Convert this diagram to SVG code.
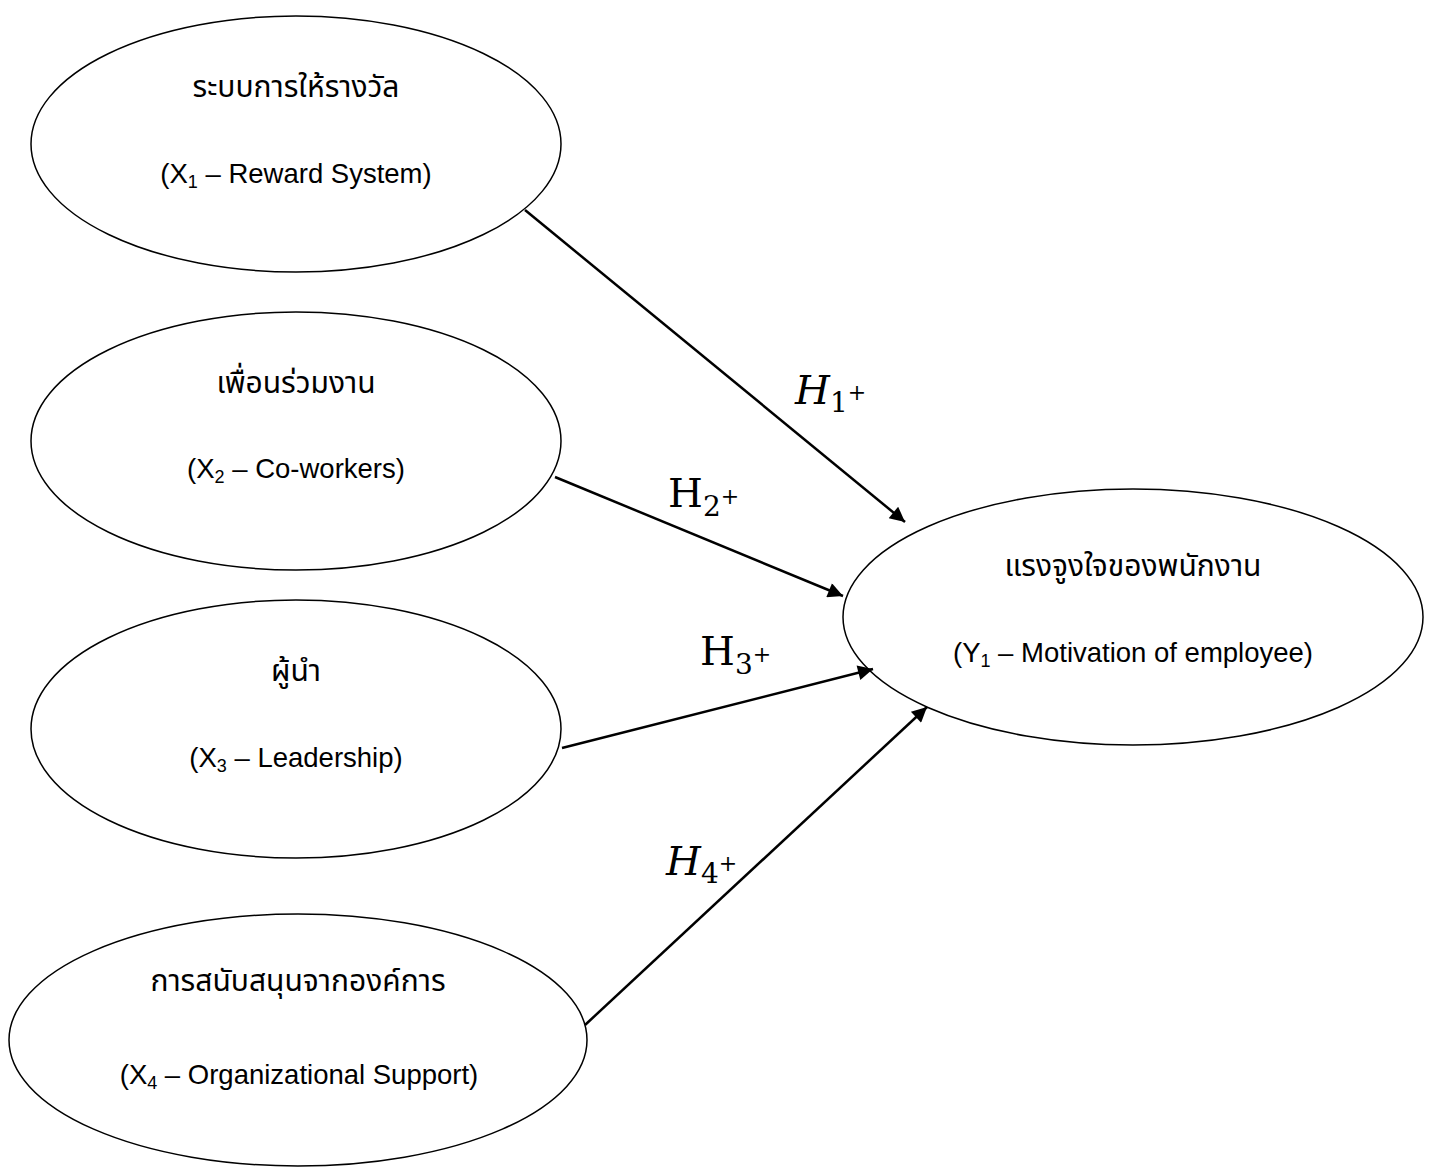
<svg xmlns="http://www.w3.org/2000/svg" width="1434" height="1167" viewBox="0 0 1434 1167">
<defs>
<marker id="ah" viewBox="0 0 10 10" refX="10" refY="5" markerWidth="8" markerHeight="6" markerUnits="strokeWidth" orient="auto">
<path d="M0,0 L10,5 L0,10 z" fill="#000"/>
</marker>
<style>
.node ellipse{fill:#fff;stroke:#000;stroke-width:1.5}
.th{font-family:"Noto Sans Thai","Noto Sans","DejaVu Sans",sans-serif;font-size:30px;fill:#000;text-anchor:middle}
.en{font-family:"Liberation Sans",Arial,sans-serif;font-size:27.5px;fill:#000;text-anchor:middle}
.sub{font-size:18px}
.conn line{stroke:#000;stroke-width:2.5;marker-end:url(#ah)}
.h{font-family:"DejaVu Serif","Liberation Serif",serif;font-size:40px;fill:#000}
.hi{font-style:italic}
.hs{font-size:28px;font-style:normal}
.hp{font-size:22px;font-style:normal}
</style>
</defs>
<rect width="1434" height="1167" fill="#fff"/>
<g id="x1" class="node">
<ellipse cx="296" cy="144" rx="265" ry="128"/>
<text class="th" x="296" y="97">ระบบการให้รางวัล</text>
<text class="en" x="296" y="183">(X<tspan class="sub" dy="5">1</tspan><tspan dy="-5"> – Reward System)</tspan></text>
</g>
<g id="x2" class="node">
<ellipse cx="296" cy="441" rx="265" ry="129"/>
<text class="th" x="296" y="393">เพื่อนร่วมงาน</text>
<text class="en" x="296" y="478">(X<tspan class="sub" dy="5">2</tspan><tspan dy="-5"> – Co-workers)</tspan></text>
</g>
<g id="x3" class="node">
<ellipse cx="296" cy="729" rx="265" ry="129"/>
<text class="th" x="296" y="681">ผู้นำ</text>
<text class="en" x="296" y="767">(X<tspan class="sub" dy="5">3</tspan><tspan dy="-5"> – Leadership)</tspan></text>
</g>
<g id="x4" class="node">
<ellipse cx="298" cy="1040" rx="289" ry="126"/>
<text class="th" x="298" y="991">การสนับสนุนจากองค์การ</text>
<text class="en" x="299" y="1084">(X<tspan class="sub" dy="5">4</tspan><tspan dy="-5"> – Organizational Support)</tspan></text>
</g>
<g id="y1" class="node">
<ellipse cx="1133" cy="617" rx="290" ry="128"/>
<text class="th" x="1133" y="576">แรงจูงใจของพนักงาน</text>
<text class="en" x="1133" y="662">(Y<tspan class="sub" dy="5">1</tspan><tspan dy="-5"> – Motivation of employee)</tspan></text>
</g>
<g id="connectors" class="conn">
<line x1="525" y1="210" x2="905" y2="522"/>
<line x1="555" y1="477" x2="843" y2="596"/>
<line x1="562" y1="748" x2="873" y2="669"/>
<line x1="585" y1="1025" x2="927" y2="707"/>
</g>
<g id="labels">
<text class="h hi" x="795" y="404">H<tspan class="hs" dy="8">1</tspan><tspan class="hp" dy="-12">+</tspan></text>
<text class="h" x="668" y="507">H<tspan class="hs" dy="9">2</tspan><tspan class="hp" dy="-12">+</tspan></text>
<text class="h" x="700" y="665">H<tspan class="hs" dy="9">3</tspan><tspan class="hp" dy="-12">+</tspan></text>
<text class="h hi" x="666" y="875">H<tspan class="hs" dy="8">4</tspan><tspan class="hp" dy="-12">+</tspan></text>
</g>
</svg>
